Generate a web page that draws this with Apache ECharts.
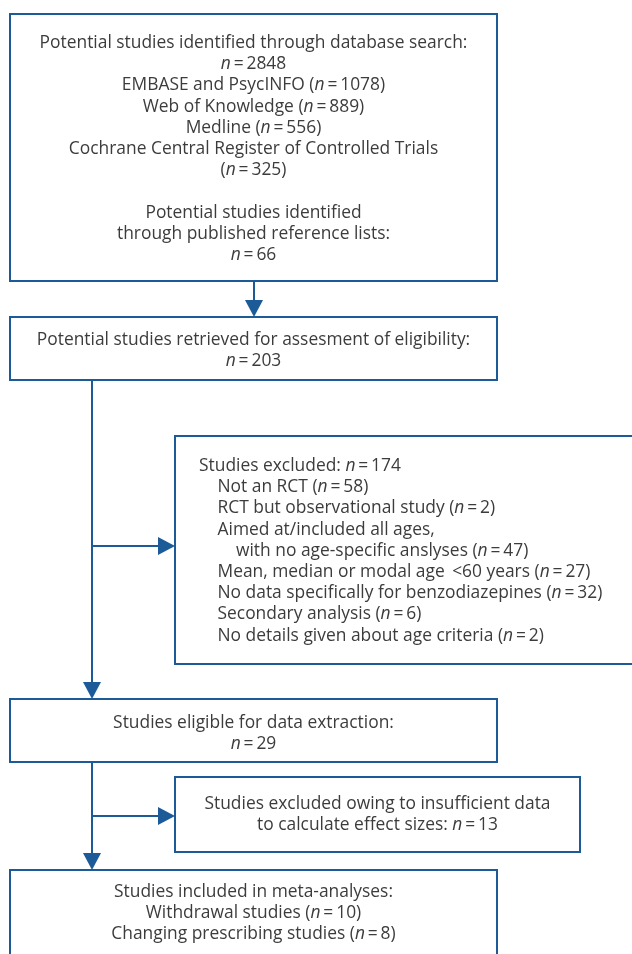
<!DOCTYPE html>
<html>
<head>
<meta charset="utf-8">
<script src="https://cdn.jsdelivr.net/npm/echarts@6/dist/echarts.min.js"></script>
<style>html,body{margin:0;padding:0;background:#fff}#c{width:632px;height:954px}</style>
</head>
<body>
<div id="c"></div>
<script>
// ---- Flowchart content ----
const searchLines = [
  'Potential studies identified through database search:',
  '{i|n}\u2009=\u20092848',
  'EMBASE and PsycINFO ({i|n}\u2009=\u20091078)',
  'Web of Knowledge ({i|n}\u2009=\u2009889)',
  'Medline ({i|n}\u2009=\u2009556)',
  'Cochrane Central Register of Controlled Trials',
  '({i|n}\u2009=\u2009325)',
  '',
  'Potential studies identified',
  'through published reference lists:',
  '{i|n}\u2009=\u200966'
];
const retrievedLines = [
  'Potential studies retrieved for assesment of eligibility:',
  '{i|n}\u2009=\u2009203'
];
const excludedLines = [
  'Studies excluded: {i|n}\u2009=\u2009174',
  'Not an RCT ({i|n}\u2009=\u200958)',
  'RCT but observational study ({i|n}\u2009=\u20092)',
  'Aimed at/included all ages,',
  'with no age-specific anslyses ({i|n}\u2009=\u200947)',
  'Mean, median or modal age \u2009<60 years ({i|n}\u2009=\u200927)',
  'No data specifically for benzodiazepines ({i|n}\u2009=\u200932)',
  'Secondary analysis ({i|n}\u2009=\u20096)',
  'No details given about age criteria ({i|n}\u2009=\u20092)'
];
const excludedIndent = [0, 1, 1, 1, 2, 1, 1, 1, 1];
const eligibleLines = [
  'Studies eligible for data extraction:',
  '{i|n}\u2009=\u200929'
];
const insufficientLines = [
  'Studies excluded owing to insufficient data',
  'to calculate effect sizes: {i|n}\u2009=\u200913'
];
const includedLines = [
  'Studies included in meta-analyses:',
  'Withdrawal studies ({i|n}\u2009=\u200910)',
  'Changing prescribing studies ({i|n}\u2009=\u20098)'
];

// ---- Layout (diagram space = page pixels) ----
const boxes = [
  {x0: 10,  y0: 14,  x1: 497, y1: 281, lines: searchLines,       align: 'center', top: 43},
  {x0: 10,  y0: 317, x1: 497, y1: 380, lines: retrievedLines,    align: 'center', top: 340},
  {x0: 175, y0: 436, x1: 645, y1: 664, lines: excludedLines,     align: 'left', left: 199, top: 466, indent: excludedIndent},
  {x0: 10,  y0: 699, x1: 497, y1: 762, lines: eligibleLines,     align: 'center', top: 723},
  {x0: 175, y0: 777, x1: 580, y1: 852, lines: insufficientLines, align: 'center', top: 804},
  {x0: 10,  y0: 870, x1: 497, y1: 975, lines: includedLines,     align: 'center', top: 892}
];
const connectors = [
  [254, 281, 254, 317],
  [92, 380, 92, 699],
  [92, 546, 175, 546],
  [92, 762, 92, 870],
  [92, 816, 175, 816]
];

const BLUE = '#1d5b98';
const TEXT = '#3c3c3c';
const FONT = '"Open Sans", "Noto Sans", sans-serif';
const FS = 17.4;
const LH = 21.2;
const INDENT = 18.5;
const rich = { i: { fontStyle: 'italic', fontSize: FS, fontFamily: FONT, fill: TEXT } };

const chart = echarts.init(document.getElementById('c'), null, { renderer: 'canvas' });

chart.setOption({
  animation: false,
  backgroundColor: '#ffffff',
  grid: { left: 0, right: 0, top: 0, bottom: 0 },
  xAxis: { type: 'value', min: 0, max: 632, show: false },
  yAxis: { type: 'value', min: 0, max: 954, inverse: true, show: false },
  series: [
    {
      type: 'custom',
      silent: true,
      clip: false,
      encode: { x: [0, 2], y: [1, 3] },
      data: boxes.map((b, i) => [b.x0, b.y0, b.x1, b.y1, i]),
      renderItem: function (params, api) {
        const b = boxes[api.value(4)];
        const p0 = api.coord([b.x0, b.y0]);
        const p1 = api.coord([b.x1, b.y1]);
        const children = [{
          type: 'rect',
          shape: { x: p0[0], y: p0[1], width: p1[0] - p0[0], height: p1[1] - p0[1] },
          style: { fill: '#fff', stroke: BLUE, lineWidth: 2 }
        }];
        b.lines.forEach((t, k) => {
          if (!t) return;
          let xPos;
          if (b.align === 'center') {
            xPos = api.coord([(b.x0 + b.x1) / 2, 0])[0];
          } else {
            xPos = api.coord([b.left + (b.indent ? b.indent[k] : 0) * INDENT, 0])[0];
          }
          const yPos = api.coord([0, b.top + k * LH])[1];
          children.push({
            type: 'text',
            style: {
              text: t, x: xPos, y: yPos,
              align: b.align, verticalAlign: 'middle',
              fill: TEXT, fontSize: FS, fontFamily: FONT, rich: rich
            }
          });
        });
        return { type: 'group', children: children };
      }
    },
    {
      type: 'custom',
      silent: true,
      clip: false,
      encode: { x: [0, 2], y: [1, 3] },
      data: connectors,
      renderItem: function (params, api) {
        const a = api.coord([api.value(0), api.value(1)]);
        const e = api.coord([api.value(2), api.value(3)]);
        const dx = e[0] - a[0], dy = e[1] - a[1];
        const len = Math.sqrt(dx * dx + dy * dy);
        const ux = dx / len, uy = dy / len;
        const L = 17, Wd = 9;
        const bx = e[0] - ux * L, by = e[1] - uy * L;
        return {
          type: 'group',
          children: [
            { type: 'line', shape: { x1: a[0], y1: a[1], x2: bx, y2: by }, style: { stroke: BLUE, lineWidth: 2 } },
            { type: 'polygon', shape: { points: [[e[0], e[1]], [bx - uy * Wd, by + ux * Wd], [bx + uy * Wd, by - ux * Wd]] }, style: { fill: BLUE } }
          ]
        };
      }
    }
  ]
});
</script>
</body>
</html>
